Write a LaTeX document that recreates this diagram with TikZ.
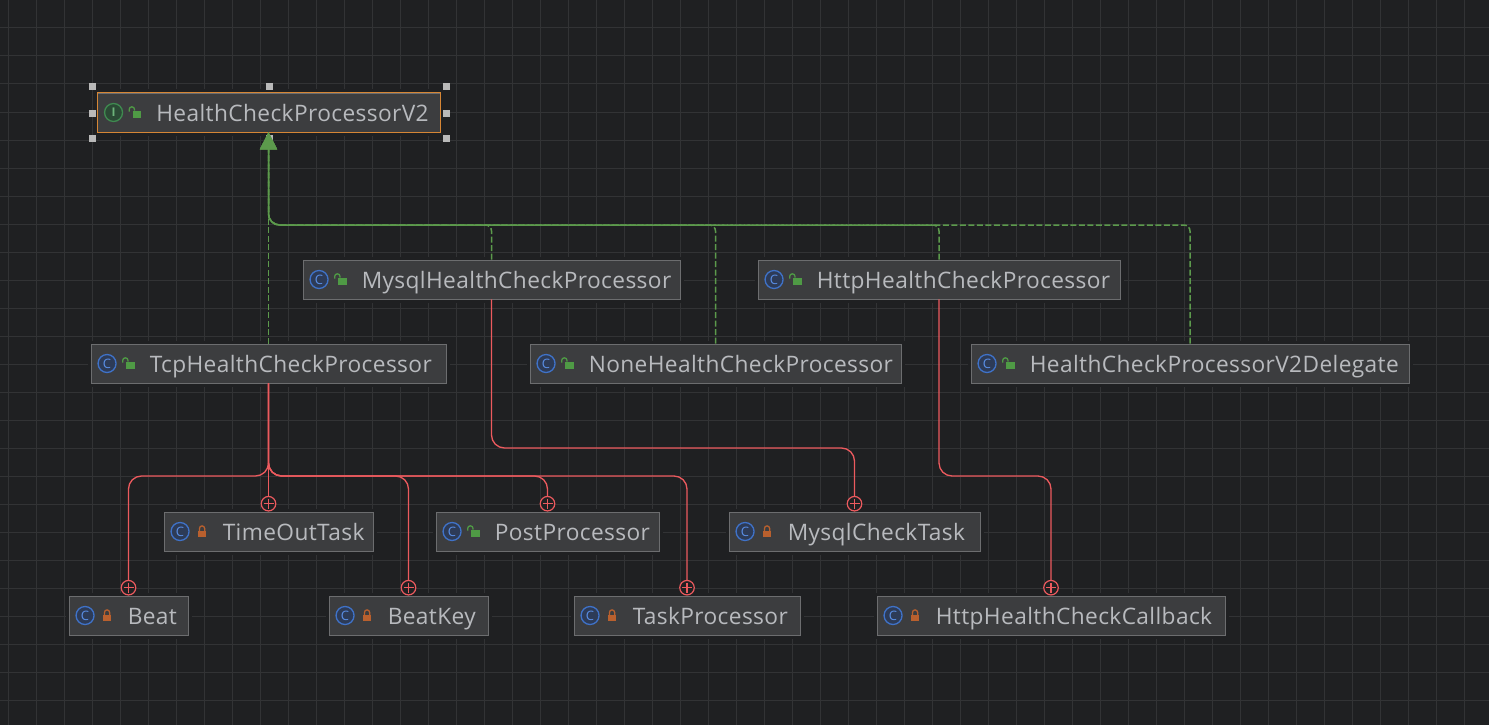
\documentclass[tikz,border=0pt]{standalone}
\usepackage{fontspec}
\setmainfont[LetterSpace=1.7]{Open Sans}
\usetikzlibrary{arrows.meta,calc}

\definecolor{canvasbg}{HTML}{1F2022}
\definecolor{gridcol}{HTML}{323335}
\definecolor{boxfill}{HTML}{3C3D3F}
\definecolor{boxline}{HTML}{6C6D6F}
\definecolor{textcol}{HTML}{B8BABE}
\definecolor{implcol}{HTML}{5C9A4C}
\definecolor{ownedcol}{HTML}{EC5A5E}
\definecolor{selectcol}{HTML}{D68635}
\definecolor{lockred}{HTML}{B9602E}
\definecolor{lockgreen}{HTML}{4F9A45}
\definecolor{classring}{HTML}{3F72C8}
\definecolor{classfill}{HTML}{2D3B57}
\definecolor{classtext}{HTML}{5A8FE6}
\definecolor{ifacering}{HTML}{3F8A50}
\definecolor{ifacefill}{HTML}{2B4A35}
\definecolor{ifacetext}{HTML}{6DB37A}

\tikzset{
  closedlock/.pic={
    \fill[lockred] (-4.3,-0.5) rectangle (4.3,5.5);
    \draw[lockred,line width=1.3pt] (-2.6,-0.5) -- (-2.6,-3) arc[start angle=180,end angle=360,radius=2.6] -- (2.6,-0.5);
  },
  openlock/.pic={
    \fill[lockgreen] (-3,-1.8) rectangle (5.7,5.2);
    \draw[lockgreen,line width=1.3pt] (-6.4,-0.8) -- (-6.4,-3) arc[start angle=180,end angle=360,radius=2.7] -- (-1,-1.8);
  }
}

% name, centre x, centre y, width, badge style, badge letter, lock pic, text
\newcommand{\typebox}[8]{
  \node[typenode,minimum width=#4] (#1) at (#2,#3) {};
  \node[#5] (#1badge) at ($(#1.west)+(16.5,0)$) {#6};
  \pic at ($(#1.west)+(38.5,0)$) {#7};
  \node[typename] (#1name) at ($(#1.west)+(59,8.8)$) {#8};
}

\begin{document}
\begin{tikzpicture}[
  x=1pt,y=-1pt,
  gridline/.style={gridcol,line width=1pt},
  typenode/.style={draw=boxline,fill=boxfill,line width=0.9pt,minimum height=39pt,inner sep=0pt,
    preaction={draw=canvasbg,line width=7pt}},
  typename/.style={anchor=base west,inner sep=0pt,text=textcol,font=\fontsize{22.7}{24}\selectfont},
  classbadge/.style={circle,draw=classring,fill=classfill,line width=1.3pt,minimum size=18pt,inner sep=0pt,
    text=classtext,font=\fontsize{13}{13}\selectfont},
  ifacebadge/.style={circle,draw=ifacering,fill=ifacefill,line width=1.3pt,minimum size=18pt,inner sep=0pt,
    text=ifacetext,font=\fontsize{12}{12}\bfseries\selectfont},
  implline/.style={implcol,line width=1.5pt,dash pattern=on 6pt off 2.5pt},
  ownedline/.style={ownedcol,line width=1.3pt},
  ownedmark/.style={circle,draw=ownedcol,fill=canvasbg,line width=1.2pt,minimum size=14.5pt,inner sep=0pt,anchor=south,
    path picture={
      \draw[ownedcol,line width=1.2pt]
        (path picture bounding box.center) ++(-5,0) -- ++(10,0)
        (path picture bounding box.center) ++(0,-5) -- ++(0,10);
    }},
  implhead/.style={-{Triangle[length=17pt,width=17pt,fill=implcol]}}
]
  \useasboundingbox (0,0) rectangle (1489,725);
  \fill[canvasbg] (0,0) rectangle (1489,725);

  % Background grid, 28px pitch.
  \begin{scope}
    \clip (0,0) rectangle (1489,725);
    \foreach \gx in {0,...,53}
      \draw[gridline] (8+28*\gx,0) -- (8+28*\gx,725);
    \foreach \gy in {0,...,25}
      \draw[gridline] (0,28*\gy) -- (1489,28*\gy);
  \end{scope}

  % Upper row of types.
  \typebox{hcp}{269}{112.5}{343}{ifacebadge}{I}{openlock}{HealthCheckProcessorV2}
  \draw[selectcol,line width=1pt] (hcp.north west) rectangle (hcp.south east);
  \typebox{mysql}{491.5}{279.5}{377}{classbadge}{C}{openlock}{MysqlHealthCheckProcessor}
  \typebox{http}{939}{279.5}{362}{classbadge}{C}{openlock}{HttpHealthCheckProcessor}
  \typebox{tcp}{268.5}{363.5}{355}{classbadge}{C}{openlock}{TcpHealthCheckProcessor}
  \typebox{none}{715.5}{363.5}{371}{classbadge}{C}{openlock}{NoneHealthCheckProcessor}
  \typebox{delegate}{1190}{363.5}{438}{classbadge}{C}{openlock}{HealthCheckProcessorV2Delegate}

  % Inner classes.
  \typebox{timeout}{268.5}{531.5}{209}{classbadge}{C}{closedlock}{TimeOutTask}
  \typebox{post}{547.5}{531.5}{223}{classbadge}{C}{openlock}{PostProcessor}
  \typebox{mysqltask}{854.5}{531.5}{251}{classbadge}{C}{closedlock}{MysqlCheckTask}
  \typebox{beat}{128.5}{615.5}{119}{classbadge}{C}{closedlock}{Beat}
  \typebox{beatkey}{408.5}{615.5}{159}{classbadge}{C}{closedlock}{BeatKey}
  \typebox{taskproc}{687}{615.5}{226}{classbadge}{C}{closedlock}{TaskProcessor}
  \typebox{callback}{1051}{615.5}{348}{classbadge}{C}{closedlock}{HttpHealthCheckCallback}

  % Selection handles round the interface.
  \foreach \hx/\hy in {92/87,269/87,446/87,92/113,446/113,92/138,269/138,446/138}
    \fill[gray!55!white] (\hx-3.5,\hy-3.5) rectangle ++(7,7);

  % Ownership markers sit on top of each inner class.
  \node[ownedmark] (timeoutmark) at (timeout.north) {};
  \node[ownedmark] (postmark) at (post.north) {};
  \node[ownedmark] (mysqltaskmark) at (mysqltask.north) {};
  \node[ownedmark] (beatmark) at (beat.north) {};
  \node[ownedmark] (beatkeymark) at (beatkey.north) {};
  \node[ownedmark] (taskprocmark) at (taskproc.north) {};
  \node[ownedmark] (callbackmark) at (callback.north) {};

  \coordinate (implrow) at (0,225);
  \coordinate (ownrow) at (0,476);
  \coordinate (mysqlrow) at (0,448);

  % Implementations, all joining at the same arrow head.
  \draw[implline,implhead] (tcp.north) -- (tcp |- hcp.south);
  \draw[implline,implhead,rounded corners=6pt] (mysql.north) -- (mysql |- implrow) [rounded corners=11pt] -- (tcp |- implrow) -- (tcp |- hcp.south);
  \draw[implline,implhead,rounded corners=6pt] (none.north) -- (none |- implrow) [rounded corners=11pt] -- (tcp |- implrow) -- (tcp |- hcp.south);
  \draw[implline,implhead,rounded corners=6pt] (http.north) -- (http |- implrow) [rounded corners=11pt] -- (tcp |- implrow) -- (tcp |- hcp.south);
  \draw[implline,implhead,rounded corners=6pt] (delegate.north) -- (delegate |- implrow) [rounded corners=11pt] -- (tcp |- implrow) -- (tcp |- hcp.south);

  % Inner classes of the tcp processor.
  \draw[ownedline] (tcp.south) -- (timeoutmark.north);
  \draw[ownedline,rounded corners=13pt] (tcp.south) -- (tcp |- ownrow) -- (beat |- ownrow) -- (beatmark.north);
  \draw[ownedline,rounded corners=13pt] (tcp.south) -- (tcp |- ownrow) -- (beatkey |- ownrow) -- (beatkeymark.north);
  \draw[ownedline,rounded corners=13pt] (tcp.south) -- (tcp |- ownrow) -- (post |- ownrow) -- (postmark.north);
  \draw[ownedline,rounded corners=13pt] (tcp.south) -- (tcp |- ownrow) -- (taskproc |- ownrow) -- (taskprocmark.north);

  % Inner classes of the other two.
  \draw[ownedline,rounded corners=13pt] (mysql.south) -- (mysql |- mysqlrow) -- (mysqltask |- mysqlrow) -- (mysqltaskmark.north);
  \draw[ownedline,rounded corners=13pt] (http.south) -- (http |- ownrow) -- (callback |- ownrow) -- (callbackmark.north);
\end{tikzpicture}
\end{document}
